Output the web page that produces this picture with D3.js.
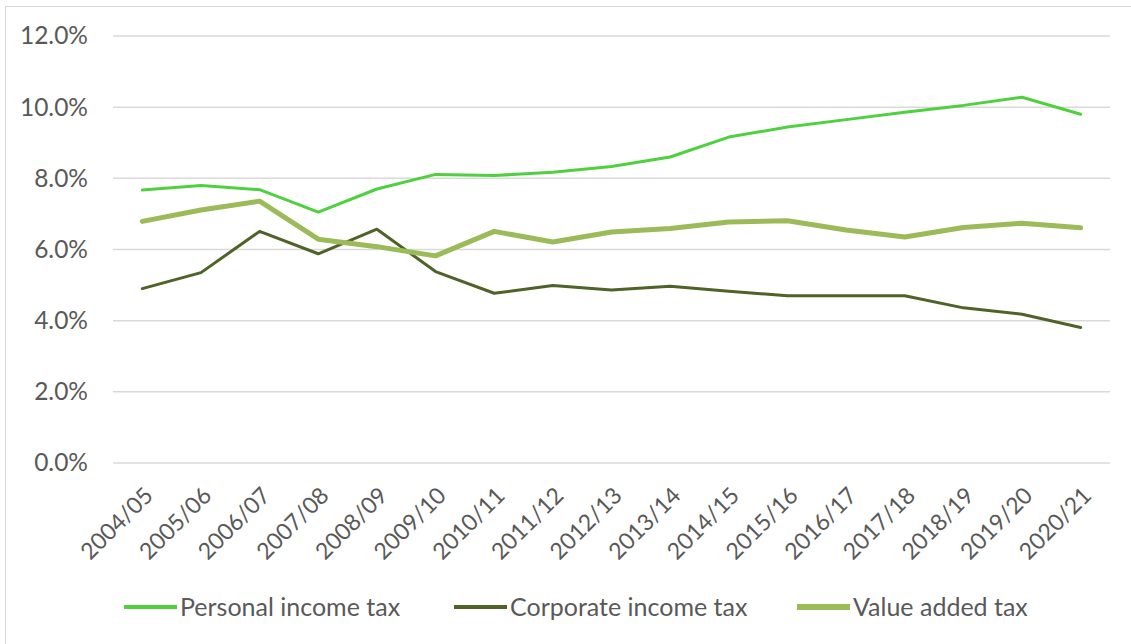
<!DOCTYPE html>
<html>
<head>
<meta charset="utf-8">
<script src="https://cdn.jsdelivr.net/npm/d3@7"></script>
<style>
  html, body { margin: 0; padding: 0; background: #fff; }
  svg { display: block; }
  text { font-family: Lato, "Liberation Sans", sans-serif; fill: #595959; }
</style>
</head>
<body>
<svg id="chart" width="1131" height="644"></svg>
<script>
// Fiscal years on the x axis
const years = ["2004/05","2005/06","2006/07","2007/08","2008/09","2009/10","2010/11","2011/12","2012/13",
  "2013/14","2014/15","2015/16","2016/17","2017/18","2018/19","2019/20","2020/21"];

// Tax revenue, percent of GDP
const personalIncomeTax = [7.67,7.80,7.68,7.05,7.70,8.11,8.08,8.17,8.33,8.60,9.16,9.44,9.65,9.86,10.05,10.28,9.80];
const corporateIncomeTax = [4.90,5.35,6.51,5.88,6.57,5.38,4.77,4.99,4.86,4.97,4.83,4.70,4.70,4.70,4.36,4.18,3.81];
const valueAddedTax = [6.79,7.11,7.36,6.29,6.08,5.82,6.51,6.21,6.49,6.59,6.77,6.81,6.55,6.35,6.62,6.74,6.61];

const yTicks = [0,2,4,6,8,10,12];

const series = [
  { name: "Personal income tax", values: personalIncomeTax, color: "#4fd13f", width: 3 },
  { name: "Corporate income tax", values: corporateIncomeTax, color: "#4f6228", width: 3 },
  { name: "Value added tax", values: valueAddedTax, color: "#9bbb59", width: 5 }
];

const svg = d3.select("#chart");
const font = "Lato, 'Liberation Sans', sans-serif";

// chart frame
svg.append("rect")
  .attr("x", 5.5).attr("y", 6.5)
  .attr("width", 1140).attr("height", 660)
  .attr("fill", "none").attr("stroke", "#d9d9d9").attr("stroke-width", 1);

const plot = { left: 113, right: 1110, top: 36, bottom: 463 };

const x = d3.scaleBand().domain(years).range([plot.left, plot.right]);
const y = d3.scaleLinear().domain([0, 12]).range([plot.bottom, plot.top]);

// horizontal gridlines
svg.append("g").selectAll("line").data(yTicks).join("line")
  .attr("x1", plot.left).attr("x2", plot.right)
  .attr("y1", d => y(d)).attr("y2", d => y(d))
  .attr("stroke", "#d9d9d9").attr("stroke-width", 1.5);

// y axis labels
const yAxis = svg.append("g")
  .attr("transform", `translate(${plot.left},0)`)
  .call(d3.axisLeft(y).tickValues(yTicks).tickSize(0).tickPadding(25)
    .tickFormat(d => d.toFixed(1) + "%"));
yAxis.select(".domain").remove();
yAxis.selectAll("text").style("font-size", "24.5px").attr("fill", "#595959")
  .style("font-family", font);

// x axis labels, rotated
const xAxis = svg.append("g")
  .attr("transform", `translate(0,${plot.bottom})`)
  .call(d3.axisBottom(x).tickSize(0).tickPadding(0));
xAxis.select(".domain").remove();
xAxis.selectAll("text")
  .style("font-size", "23px").attr("fill", "#595959")
  .style("font-family", font)
  .attr("text-anchor", "end")
  .attr("dy", null)
  .attr("transform", "translate(12,34) rotate(-45)");

// series lines
const line = d3.line()
  .x((d, i) => x(years[i]) + x.bandwidth() / 2)
  .y(d => y(d));

svg.append("g").selectAll("path").data(series).join("path")
  .attr("d", s => line(s.values))
  .attr("fill", "none")
  .attr("stroke", s => s.color)
  .attr("stroke-width", s => s.width)
  .attr("stroke-linejoin", "round")
  .attr("stroke-linecap", "round");

// legend
const legendX = [124, 454, 797];
const legend = svg.append("g").selectAll("g").data(series).join("g")
  .attr("transform", (s, i) => `translate(${legendX[i]},607)`);
legend.append("line")
  .attr("x1", 0).attr("x2", 53)
  .attr("stroke", s => s.color)
  .attr("stroke-width", s => s.width + 1);
legend.append("text")
  .attr("x", 56).attr("dy", "0.35em")
  .style("font-size", "25px")
  .text(s => s.name);
</script>
</body>
</html>
